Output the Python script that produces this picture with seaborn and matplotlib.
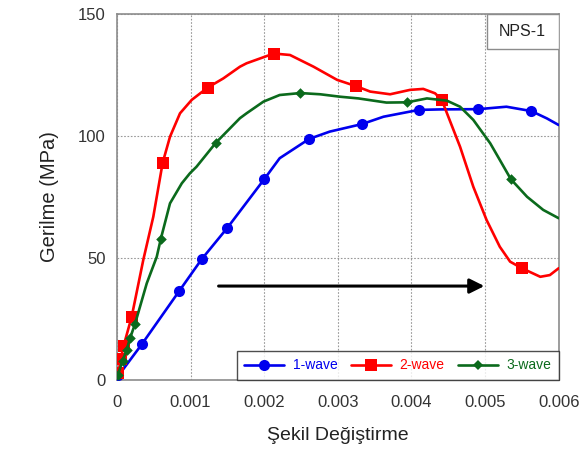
import matplotlib
matplotlib.use("Agg")
import matplotlib.pyplot as plt
from matplotlib.lines import Line2D
from matplotlib.patches import Rectangle
import seaborn as sns
import pandas as pd

# ---- data ----
# 1-wave (blue) curve and markers
wave1_curve_x = [0.0, 0.000336, 0.000846, 0.00115, 0.0015, 0.0020, 0.00221, 0.00261, 0.00289,
                 0.00333, 0.00362, 0.0041, 0.00439, 0.00491, 0.00529, 0.00563, 0.00584, 0.0060]
wave1_curve_y = [1.0, 14.6, 36.5, 49.5, 62.4, 82.3, 90.9, 98.8, 101.8,
                 104.9, 107.9, 110.7, 110.9, 111.0, 112.0, 110.2, 107.2, 104.5]
wave1_mark_x = [0.00002, 0.000336, 0.000846, 0.00115, 0.0015, 0.0020, 0.00261, 0.00333, 0.0041, 0.00491, 0.00563]
wave1_mark_y = [2.0, 14.6, 36.5, 49.5, 62.4, 82.3, 98.8, 104.9, 110.7, 111.0, 110.2]

# 2-wave (red) curve and markers
wave2_curve_x = [0.0, 0.00002, 0.00005, 0.00009, 0.0002, 0.000357, 0.000493, 0.00062, 0.00072,
                 0.000856, 0.001015, 0.00123, 0.001444, 0.00167, 0.00176, 0.00213, 0.00235,
                 0.00267, 0.00299, 0.00325, 0.00344, 0.00371, 0.00398, 0.00416, 0.00432,
                 0.00441, 0.00466, 0.00484, 0.00502, 0.0052, 0.00534, 0.0055, 0.00575,
                 0.00588, 0.0060]
wave2_curve_y = [1.0, 3.0, 8.5, 14.0, 26.0, 49.2, 66.9, 89.0, 99.7,
                 109.3, 114.8, 119.8, 123.6, 128.4, 129.8, 133.8, 133.2,
                 128.4, 123.0, 120.4, 118.2, 117.1, 118.9, 119.3, 117.5,
                 114.9, 95.6, 79.2, 65.6, 54.6, 48.5, 45.8, 42.3,
                 43.0, 45.8]
wave2_mark_x = [0.00002, 0.00005, 0.00009, 0.0002, 0.00062, 0.00123, 0.00213, 0.00325, 0.00441, 0.0055]
wave2_mark_y = [3.0, 8.5, 14.0, 26.0, 89.0, 119.8, 133.8, 120.4, 114.9, 45.8]

# 3-wave (green) curve and markers
wave3_curve_x = [0.0, 0.00001, 0.000077, 0.00013, 0.000177, 0.000245, 0.000404, 0.00054, 0.000594,
                 0.00072, 0.00088, 0.00099, 0.00108, 0.001345, 0.00167, 0.00176, 0.00199,
                 0.00221, 0.00249, 0.00276, 0.00303, 0.00328, 0.00366, 0.00394, 0.00421,
                 0.00448, 0.00466, 0.00484, 0.00507, 0.0052, 0.00535, 0.00557, 0.00579, 0.0060]
wave3_curve_y = [1.0, 2.0, 7.9, 12.3, 17.1, 23.0, 39.6, 50.5, 57.7,
                 72.4, 80.6, 84.7, 87.4, 97.3, 107.3, 109.3, 114.1,
                 116.8, 117.6, 117.1, 116.1, 115.4, 113.7, 113.8, 115.4,
                 114.5, 112.0, 106.6, 97.0, 90.2, 82.3, 75.1, 69.7, 66.3]
wave3_mark_x = [0.00001, 0.000077, 0.00013, 0.000177, 0.000245, 0.000594, 0.001345, 0.00249, 0.00394, 0.00535]
wave3_mark_y = [2.0, 7.9, 12.3, 17.1, 23.0, 57.7, 97.3, 117.6, 113.8, 82.3]

series_labels = ["1-wave", "2-wave", "3-wave"]
series_colors = ["#0000ee", "#ff0000", "#0b6a1c"]
series_markers = ["o", "s", "D"]
series_msize = [8.0, 8.8, 5.4]

x_ticks = [0, 0.001, 0.002, 0.003, 0.004, 0.005, 0.006]
x_ticklabels = ["0", "0.001", "0.002", "0.003", "0.004", "0.005", "0.006"]
y_ticks = [0, 50, 100, 150]
y_ticklabels = ["0", "50", "100", "150"]

arrow_x = [0.00138, 0.00499]
arrow_y = [38.5, 38.5]

x_label = "Şekil Değiştirme"
y_label = "Gerilme (MPa)"
box_text = "NPS-1"

# ---- plotting ----
sns.set_style("white")
plt.rcParams["font.family"] = ["Liberation Sans", "DejaVu Sans"]

fig = plt.figure(figsize=(5.82, 4.5), dpi=100)
ax = fig.add_axes([117 / 582, 1 - 380 / 450, (558.7 - 117) / 582, (380 - 14) / 450])

curves = [(wave1_curve_x, wave1_curve_y), (wave2_curve_x, wave2_curve_y), (wave3_curve_x, wave3_curve_y)]
marks = [(wave1_mark_x, wave1_mark_y), (wave2_mark_x, wave2_mark_y), (wave3_mark_x, wave3_mark_y)]

for i, ((cx, cy), (mx, my)) in enumerate(zip(curves, marks)):
    dfc = pd.DataFrame({"x": cx, "y": cy})
    sns.lineplot(data=dfc, x="x", y="y", sort=False, estimator=None, ax=ax,
                 color=series_colors[i], linewidth=1.9, zorder=3 + i)
    dfm = pd.DataFrame({"x": mx, "y": my})
    sns.scatterplot(data=dfm, x="x", y="y", ax=ax, color=series_colors[i],
                    marker=series_markers[i], s=series_msize[i] ** 2,
                    edgecolor=series_colors[i], linewidth=0, zorder=3 + i)

ax.set_xlim(0, 0.006)
ax.set_ylim(0, 150)
ax.set_xticks(x_ticks)
ax.set_xticklabels(x_ticklabels)
ax.set_yticks(y_ticks)
ax.set_yticklabels(y_ticklabels)
ax.tick_params(axis="both", labelsize=12, colors="#333333", direction="in", length=3)
ax.tick_params(axis="x", pad=11)
ax.tick_params(axis="y", pad=8)
ax.grid(True, color="#999999", linestyle=(0, (1.5, 1.5)), linewidth=0.8, zorder=0)
ax.set_axisbelow(True)
for sp in ax.spines.values():
    sp.set_color("#8c8c8c")
    sp.set_linewidth(1.2)

ax.set_xlabel(x_label, fontsize=14, color="#222222", labelpad=12)
ax.set_ylabel(y_label, fontsize=14.5, color="#222222", labelpad=14)

ax.annotate("", xy=(arrow_x[1], arrow_y[1]), xytext=(arrow_x[0], arrow_y[0]),
            arrowprops=dict(arrowstyle="-|>", color="black", lw=2.2, mutation_scale=22,
                            shrinkA=0, shrinkB=0), zorder=6)

handles = [Line2D([0], [0], color=series_colors[i], lw=1.9, marker=series_markers[i],
                  markersize=series_msize[i], markeredgewidth=0) for i in range(3)]
leg = ax.legend(handles, series_labels, loc="lower right", bbox_to_anchor=(1.0, 0.0),
                ncol=3, fontsize=10, frameon=True, fancybox=False, borderaxespad=0,
                handlelength=2.9, handletextpad=0.6, columnspacing=0.95,
                labelcolor="linecolor", borderpad=0.55)
leg.get_frame().set_edgecolor("#222222")
leg.get_frame().set_linewidth(1.0)
leg.set_zorder(10)

bx0 = (486.7 - 117) / 441.7
bh = (49.3 - 14) / 366
ax.add_patch(Rectangle((bx0, 1 - bh), 1 - bx0, bh, transform=ax.transAxes,
                       facecolor="white", edgecolor="#8c8c8c", linewidth=1.0, zorder=9))
ax.text(bx0 + (1 - bx0) / 2, 1 - bh / 2, box_text,
        transform=ax.transAxes, ha="center", va="center", fontsize=11.5, color="#222222",
        zorder=10)

fig.savefig("out.png", dpi=100)
